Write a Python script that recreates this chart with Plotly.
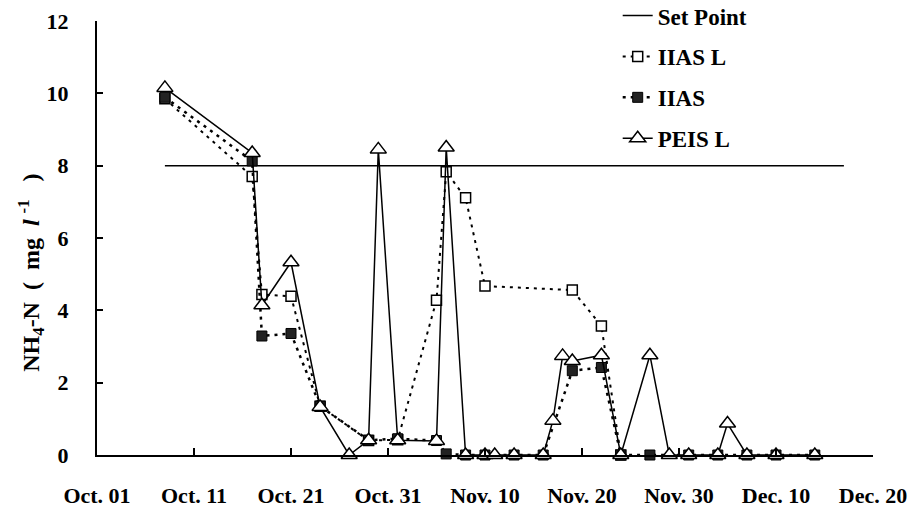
import plotly.graph_objects as go

# ---- data ----
setpoint_dates = ["2003-10-08", "2003-12-17"]
setpoint_vals = [8, 8]

iasl_dates = ["2003-10-08", "2003-10-17", "2003-10-18", "2003-10-21", "2003-10-24",
              "2003-10-29", "2003-11-01", "2003-11-05", "2003-11-06", "2003-11-08",
              "2003-11-10", "2003-11-19", "2003-11-22", "2003-11-24"]
iasl_vals = [9.85, 7.7, 4.44, 4.39, 1.35, 0.4, 0.42, 4.28, 7.83, 7.11, 4.67, 4.56, 3.57, 0]

ias_dates = ["2003-10-08", "2003-10-17", "2003-10-18", "2003-10-21", "2003-10-24",
             "2003-10-29", "2003-11-01", "2003-11-05", "2003-11-06", "2003-11-08",
             "2003-11-10", "2003-11-13", "2003-11-16", "2003-11-19", "2003-11-22",
             "2003-11-24", "2003-11-27", "2003-12-01", "2003-12-04", "2003-12-07",
             "2003-12-10", "2003-12-14"]
ias_vals = [9.89, 8.13, 3.29, 3.36, 1.35, 0.41, 0.45, 0.4, 0.03, 0,
            0, 0, 0, 2.33, 2.42, 0, 0, 0, 0, 0, 0, 0]

peisl_dates = ["2003-10-08", "2003-10-17", "2003-10-18", "2003-10-21", "2003-10-24",
               "2003-10-27", "2003-10-29", "2003-10-30", "2003-11-01", "2003-11-05",
               "2003-11-06", "2003-11-08", "2003-11-10", "2003-11-11", "2003-11-13",
               "2003-11-16", "2003-11-17", "2003-11-18", "2003-11-19", "2003-11-22",
               "2003-11-24", "2003-11-27", "2003-11-29", "2003-12-01", "2003-12-04",
               "2003-12-05", "2003-12-07", "2003-12-10", "2003-12-14"]
peisl_vals = [10.15, 8.35, 4.14, 5.33, 1.33, 0, 0.41, 8.45, 0.41, 0.39,
              8.5, 0, 0, 0, 0, 0, 0.95, 2.74, 2.6, 2.76,
              0, 2.76, 0, 0, 0, 0.87, 0, 0, 0]

FONT = "Liberation Serif"
NB = "\u00a0"

fig = go.Figure()

fig.add_trace(go.Scatter(
    x=setpoint_dates, y=setpoint_vals, name="Set Point", mode="lines",
    line=dict(color="black", width=1.5), legendgroup="a", cliponaxis=False))

fig.add_trace(go.Scatter(
    x=iasl_dates, y=iasl_vals, name="IIAS L", mode="lines+markers",
    line=dict(color="black", width=2, dash="3px,5px"),
    marker=dict(symbol="square", size=10, color="white",
                line=dict(color="black", width=1.5)),
    legendgroup="b", cliponaxis=False))

fig.add_trace(go.Scatter(
    x=ias_dates, y=ias_vals, name="IIAS", mode="lines+markers",
    line=dict(color="black", width=2.5, dash="3px,5px"),
    marker=dict(symbol="square", size=10, color="#222222",
                line=dict(color="black", width=1)),
    legendgroup="c", cliponaxis=False))

fig.add_trace(go.Scatter(
    x=peisl_dates, y=peisl_vals, name="PEIS L", mode="lines+markers",
    line=dict(color="black", width=1.5),
    marker=dict(symbol="triangle-up", size=14, color="white",
                line=dict(color="black", width=1.5)),
    legendgroup="d", cliponaxis=False))

fig.update_layout(
    width=919, height=511,
    margin=dict(l=97, r=46, t=21, b=56, autoexpand=False),
    paper_bgcolor="white", plot_bgcolor="white",
    font=dict(family=FONT, size=22, color="black", weight="bold"),
    showlegend=True,
    legend=dict(x=0.671, y=1.062, xanchor="left", yanchor="top",
                bgcolor="rgba(0,0,0,0)", tracegroupgap=8,
                traceorder="grouped",
                font=dict(family=FONT, size=23, weight="bold")),
)

fig.update_xaxes(
    type="date", range=["2003-10-01", "2003-12-20"],
    tick0="2003-10-01", dtick=10 * 86400000, tickformat="%b. %d",
    showline=True, linecolor="black", linewidth=2,
    ticks="inside", ticklen=7, tickwidth=2, tickcolor="black",
    showgrid=False, zeroline=False, ticklabelstandoff=20, automargin=False)

fig.update_yaxes(
    range=[0, 12], dtick=2, tick0=0,
    showline=True, linecolor="black", linewidth=2,
    ticks="inside", ticklen=6, tickwidth=2, tickcolor="black",
    showgrid=False, zeroline=False, ticklabelstandoff=22, automargin=False)

fig.add_annotation(
    text=f"NH<sub>4</sub>-N{NB}{NB}({NB}{NB}mg{NB}{NB}<i>l</i>{NB}<sup>-1</sup>{NB}{NB}{NB})",
    xref="paper", yref="paper", x=-0.085, y=0.42,
    textangle=-90, showarrow=False, xanchor="center", yanchor="middle",
    font=dict(family=FONT, size=24, weight="bold"))

fig.write_html("out.html")
